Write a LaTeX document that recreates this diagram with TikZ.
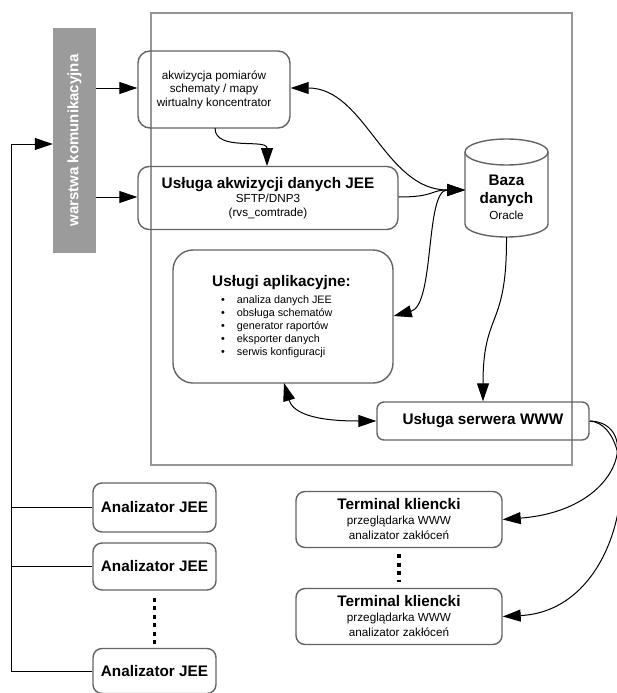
\documentclass[tikz,border=0pt]{standalone}
\usepackage{fontspec}
\setmainfont{Liberation Sans}
\usetikzlibrary{arrows.meta}
\definecolor{boxline}{RGB}{100,100,100}
\definecolor{frameline}{RGB}{150,150,150}
\definecolor{barfill}{RGB}{155,155,155}
\begin{document}
\begin{tikzpicture}[x=1pt,y=-1pt,
  rbox/.style={draw=boxline, line width=1.4pt, rounded corners=#1, align=center, inner sep=0pt},
  rbox/.default=9pt,
  ttl/.style={font=\fontsize{15.3}{17}\selectfont\bfseries},
  conn/.style={draw=black, line width=1pt},
  tip/.tip={Triangle[length=18pt,width=12pt]},
  arr/.style={conn, -tip},
  arrb/.style={conn, tip-tip},
  dotline/.style={draw=black, line width=3.5pt, dash pattern=on 4pt off 4.5pt}
]
\useasboundingbox (0,0) rectangle (617,693);
\fill[white] (0,0) rectangle (617,693);

% frame
\node[draw=frameline, line width=1.1pt, minimum width=421pt, minimum height=452pt, inner sep=0pt] (frame) at (361.5,239) {};

% communication bar
\node[fill=barfill, minimum width=43pt, minimum height=225pt, inner sep=0pt] (bar) at (74.5,140.5) {};
\node[rotate=90, text=white, font=\fontsize{15}{17}\selectfont\bfseries] (bartext) at (bar.center) {warstwa komunikacyjna};

% boxes
\node[rbox=12pt, minimum width=152pt, minimum height=77pt, font=\fontsize{11.7}{13.5}\selectfont] (b1) at (214,89.5)
  {akwizycja pomiarów\\schematy / mapy\\wirtualny koncentrator};
\node[rbox=11pt, minimum width=260pt, minimum height=63pt, font=\fontsize{11.7}{14.2}\selectfont] (b2) at (268,198)
  {{\fontsize{15.3}{15}\selectfont\bfseries Usługa akwizycji danych JEE}\\
   SFTP/DNP3\\
   (rvs\_comtrade)};

% database cylinder
\draw[draw=boxline, line width=1.4pt, fill=white]
  (465,152) -- (465,224)
  arc[start angle=180, end angle=360, x radius=41.5pt, y radius=13pt]
  -- (548,152)
  arc[start angle=0, end angle=180, x radius=41.5pt, y radius=13pt] -- cycle;
\draw[draw=boxline, line width=1.4pt]
  (465,152) arc[start angle=180, end angle=360, x radius=41.5pt, y radius=13pt];
\node[minimum width=83pt, minimum height=98pt, inner sep=0pt] (db) at (506.5,188) {};
\node[align=center, inner sep=0pt, font=\fontsize{15.3}{18.5}\selectfont\bfseries] (dbtext) at (506.5,197)
  {Baza\\danych\\[-3pt]\fontsize{11.7}{14}\selectfont\mdseries Oracle};

% application services
\node[rbox=20pt, minimum width=220pt, minimum height=133pt] (b3) at (283,316.5) {};
\node[ttl, inner sep=0pt] (b3title) at (281.5,283) {Usługi aplikacyjne:};
\node[anchor=north west, inner sep=0pt, font=\fontsize{10.8}{13}\selectfont] (b3list) at (221,294)
  {\begin{tabular}{@{}l@{\hspace{12pt}}l@{}}
  •& analiza danych JEE\\
  •& obsługa schematów\\
  •& generator raportów\\
  •& eksporter danych\\
  •& serwis konfiguracji
  \end{tabular}};

% web server
\node[rbox=7pt, ttl, minimum width=212pt, minimum height=38pt] (www) at (483,421) {Usługa serwera WWW};

% analyzers
\node[rbox=9pt, ttl, minimum width=123pt, minimum height=49pt] (a1) at (154.5,507.5) {Analizator JEE};
\node[rbox=9pt, ttl, minimum width=123pt, minimum height=47pt] (a2) at (154.5,566.5) {Analizator JEE};
\node[rbox=9pt, ttl, minimum width=123pt, minimum height=45pt] (a3) at (154.5,671) {Analizator JEE};

% terminals
\node[rbox=9pt, minimum width=206pt, minimum height=56pt, font=\fontsize{11.7}{15}\selectfont] (t1) at (399,519.5)
  {{\fontsize{15.3}{15}\selectfont\bfseries Terminal kliencki}\\
   przeglądarka WWW\\
   analizator zakłóceń};
\node[rbox=9pt, minimum width=206pt, minimum height=56pt, font=\fontsize{11.7}{15}\selectfont] (t2) at (399,616.5)
  {{\fontsize{15.3}{15}\selectfont\bfseries Terminal kliencki}\\
   przeglądarka WWW\\
   analizator zakłóceń};

% dots
\draw[dotline, shorten <=7pt, shorten >=4pt] (a2.south) -- (a3.north);
\draw[dotline, shorten <=6pt, shorten >=6pt] (t1.south) -- (t2.north);

% left bus
\coordinate (lt) at (11,144);
\draw[arr] (a3.west) -| (lt) -- (bar.west |- lt);
\draw[conn] (a1.west) -- (a1.west -| lt);
\draw[conn] (a2.west) -- (a2.west -| lt);

% bar to boxes
\draw[arr] (bar.east |- 0,88) -- (b1.west |- 0,88);
\draw[arr] (bar.east |- 0,197) -- (b2.west |- 0,197);

% b1 -> b2
\draw[arr] (215,128) .. controls (215,152) and (267,138) .. (267,166);

% links to database
\coordinate (dbw) at (465,190);
\draw[arrb] (b1.east |- 0,88) .. controls (365,88) and (385,190) .. (dbw);
\draw[arr] (b2.east |- 0,197) .. controls (435,197) and (430,190) .. (dbw);
\draw[arrb] (b3.east |- 0,316) .. controls (435,305) and (425,190) .. (dbw);

% db -> www
\draw[arr] (db.south |- 0,237) .. controls (507,330) and (483,310) .. (www.north);

% b3 <-> www
\draw[arrb] (284,383) .. controls (295,420) and (340,421) .. (www.west);

% www -> terminals
\draw[arr] (www.east) .. controls (640,422) and (625,510) .. (t1.east);
\draw[arr] (www.east) .. controls (645,425) and (630,610) .. (t2.east);
\end{tikzpicture}
\end{document}
